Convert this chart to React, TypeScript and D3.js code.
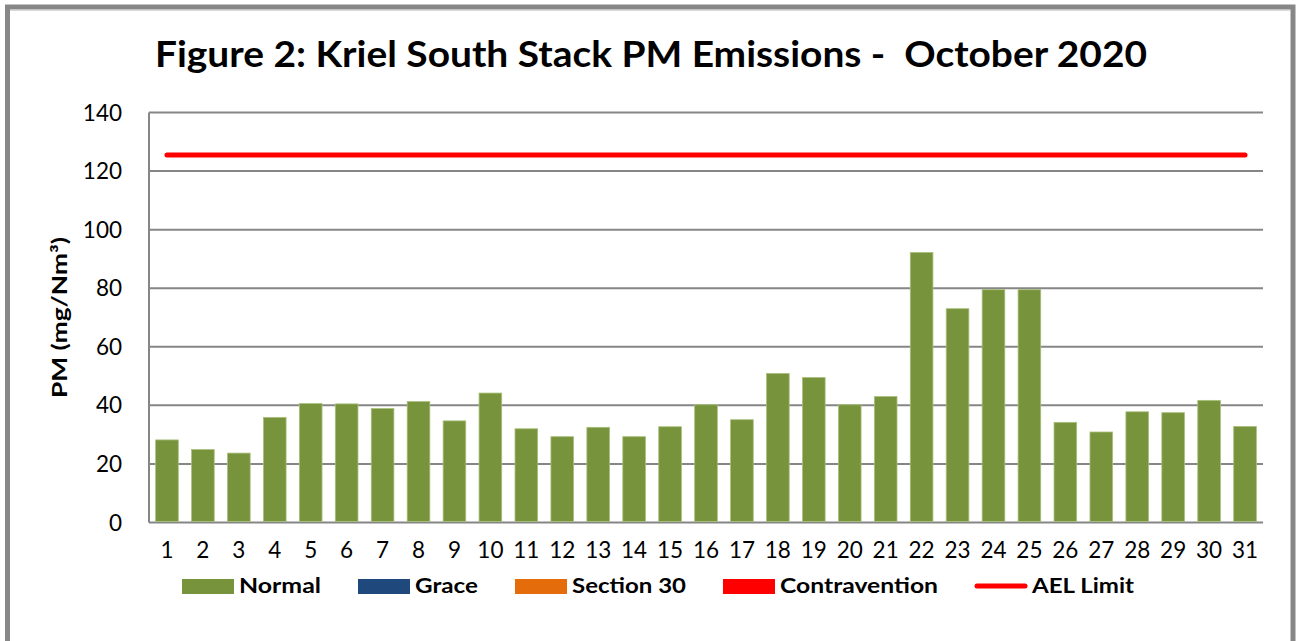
import React from "react";
import * as d3 from "d3";

const days: string[] = Array.from({ length: 31 }, (_, i) => String(i + 1));
const normalValues: number[] = [
  28.2, 24.9, 23.7, 35.9, 40.6, 40.5, 38.9, 41.3, 34.7, 44.2,
  32.0, 29.3, 32.5, 29.3, 32.7, 40.2, 35.1, 50.9, 49.5, 40.2,
  43.0, 92.2, 73.0, 79.5, 79.5, 34.2, 30.9, 37.8, 37.5, 41.7, 32.8,
];
const aelLimit = 125.5;
const yTicks: number[] = [0, 20, 40, 60, 80, 100, 120, 140];
const legendLabels: string[] = ["Normal", "Grace", "Section 30", "Contravention", "AEL Limit"];
const legendColors: string[] = ["#77933C", "#1F497D", "#E46C0A", "#FF0000", "#FF0000"];
const legendTextWidths: number[] = [82, 63, 114, 158, 102];

const FONT = "Lato, 'Open Sans', sans-serif";

export default function App() {
  const W = 1300, H = 641;
  const left = 149, right = 1263, top = 112.5, bottom = 522.5;
  const x = d3.scaleBand<string>().domain(days).range([left, right]).paddingInner(0.37).paddingOuter(0.185);
  const y = d3.scaleLinear().domain([0, 140]).range([bottom, top]);
  const cxOf = (d: string) => (x(d) as number) + x.bandwidth() / 2;

  const legendItems: { label: string; color: string; sx: number; tx: number; tw: number; line: boolean }[] = [];
  let cx = 182;
  legendLabels.forEach((lab, i) => {
    const line = i === legendLabels.length - 1;
    const sx = cx;
    const tx = sx + 52 + 5;
    const tw = legendTextWidths[i];
    legendItems.push({ label: lab, color: legendColors[i], sx, tx, tw, line });
    cx = tx + tw + 37;
  });

  return (
    <svg width={W} height={H} style={{ position: "absolute", left: 0, top: 0, background: "#fff" }}>
      <rect x={0} y={0} width={W} height={H} fill="#fff" />
      <rect x={7.5} y={7} width={1285.5} height={700} fill="none" stroke="#878787" strokeWidth={5} />
      <line x1={10} x2={1290} y1={10.5} y2={10.5} stroke="#d9d9d9" strokeWidth={1} />
      <text x={651} y={67} textAnchor="middle" fontFamily={FONT} fontWeight={700} fontSize={37}
        textLength={992} lengthAdjust="spacingAndGlyphs" fill="#000" xmlSpace="preserve">
        Figure 2: Kriel South Stack PM Emissions -  October 2020
      </text>
      {yTicks.map((t) => (
        <line key={t} x1={left} x2={right} y1={y(t)} y2={y(t)} stroke="#868686" strokeWidth={2} />
      ))}
      <line x1={left} x2={left} y1={top} y2={bottom} stroke="#868686" strokeWidth={2} />
      {yTicks.map((t) => (
        <text key={t} x={122} y={y(t) + 8} textAnchor="end" fontFamily={FONT} fontSize={22.5} fill="#000">
          {t}
        </text>
      ))}
      <text transform={`translate(67,${(top + bottom) / 2}) rotate(-90)`} textAnchor="middle"
        fontFamily={FONT} fontWeight={700} fontSize={20} fill="#000" textLength={161} lengthAdjust="spacingAndGlyphs">
        PM (mg/Nm³)
      </text>
      {normalValues.map((v, i) => (
        <rect key={i} x={x(days[i])} y={y(v)} width={x.bandwidth()} height={y(0) - y(v) - 1}
          fill="#77933C" stroke="#A9C07A" strokeWidth={0.8} />
      ))}
      <line x1={cxOf(days[0])} x2={cxOf(days[days.length - 1])} y1={y(aelLimit)} y2={y(aelLimit)}
        stroke="#FF0000" strokeWidth={5} strokeLinecap="round" />
      {days.map((d) => (
        <text key={d} x={cxOf(d)} y={558} textAnchor="middle" fontFamily={FONT}
          fontSize={22.5} fill="#000">
          {d}
        </text>
      ))}
      {legendItems.map((it) => (
        <g key={it.label}>
          {it.line ? (
            <line x1={it.sx + 2} x2={it.sx + 50} y1={586} y2={586} stroke={it.color} strokeWidth={5} strokeLinecap="round" />
          ) : (
            <rect x={it.sx} y={579} width={52} height={15} fill={it.color} />
          )}
          <text x={it.tx} y={593} fontFamily={FONT} fontWeight={700} fontSize={21} fill="#000"
            textLength={it.tw} lengthAdjust="spacingAndGlyphs">
            {it.label}
          </text>
        </g>
      ))}
    </svg>
  );
}
